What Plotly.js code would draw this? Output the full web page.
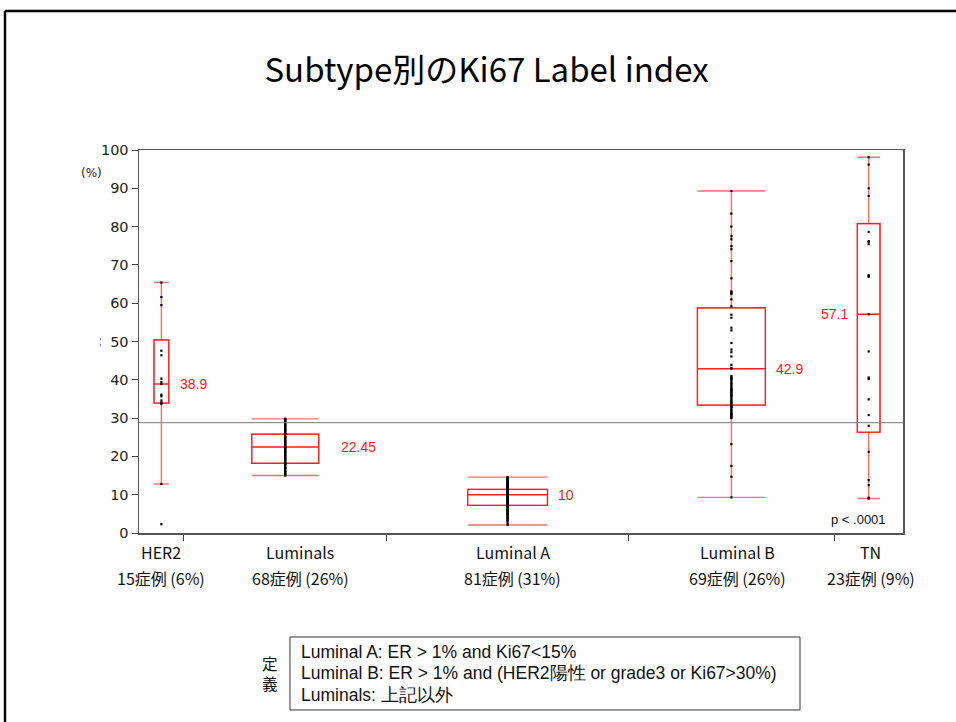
<!DOCTYPE html>
<html>
<head>
<meta charset="utf-8">
<script src="https://cdn.plot.ly/plotly-3.0.1.min.js"></script>
<style>
html,body{margin:0;padding:0;background:#fff;}
#chart{width:956px;height:722px;}
</style>
</head>
<body>
<div id="chart"></div>
<script>
// ---- data ----
var categories = ["HER2", "Luminals", "Luminal A", "Luminal B", "TN"];
var caseLabels = ["15症例 (6%)", "68症例 (26%)", "81症例 (31%)", "69症例 (26%)", "23症例 (9%)"];
var counts = [15, 68, 81, 69, 23];

var q1 = [33.9, 18.2, 7.2, 33.4, 26.3];
var medians = [38.9, 22.45, 10, 42.9, 57.1];
var q3 = [50.4, 25.8, 11.4, 58.8, 80.8];
var lowerFence = [12.8, 15.0, 2.1, 9.3, 9.0];
var upperFence = [65.4, 29.8, 14.6, 89.3, 98.1];
var medianText = ["38.9", "22.45", "10", "42.9", "57.1"];

var her2Pts = [65.4, 61.6, 59.5, 47.6, 46.4, 40.3, 39.4, 38.9, 36.1, 35.7, 34.6, 34.1, 33.7, 12.8, 2.3];
var luminalsPts = [15.0, 15.2, 15.5, 15.5, 16.0, 16.1, 16.3, 16.7, 17.0, 17.0, 17.4, 17.8, 18.0, 18.2, 18.2, 18.5, 18.9,
  19.0, 19.3, 19.5, 19.8, 20.0, 20.0, 20.4, 20.6, 20.9, 21.1, 21.3, 21.5, 21.8, 22.0, 22.1, 22.4, 22.45, 22.5,
  22.9, 23.0, 23.3, 23.5, 23.6, 24.0, 24.0, 24.2, 24.5, 24.8, 25.0, 25.1, 25.3, 25.9, 26.0, 26.2, 26.5, 26.7,
  27.0, 27.0, 27.3, 27.6, 27.9, 28.0, 28.3, 28.5, 28.6, 29.0, 29.1, 29.4, 29.5, 29.8, 29.8];
var luminalAPts = [2.1, 2.5, 3.0, 3.3, 3.5, 3.8, 4.0, 4.2, 4.5, 4.8, 5.0, 5.0, 5.3, 5.5, 5.8, 6.0, 6.0, 6.2, 6.5,
  6.7, 6.9, 7.0, 7.1, 7.2, 7.3, 7.5, 7.7, 7.9, 8.0, 8.0, 8.2, 8.4, 8.6, 8.8, 9.0, 9.0, 9.2, 9.4, 9.5, 9.7, 9.8,
  10.0, 10.0, 10.0, 10.0, 10.2, 10.3, 10.5, 10.5, 10.6, 10.8, 10.9, 11.0, 11.0, 11.1, 11.2, 11.3, 11.4, 11.5,
  11.6, 11.8, 12.0, 12.0, 12.1, 12.3, 12.5, 12.5, 12.7, 12.8, 13.0, 13.0, 13.2, 13.4, 13.5, 13.7, 13.9, 14.0,
  14.1, 14.3, 14.5, 14.6];
var luminalBPts = [89.3, 83.4, 80.0, 77.5, 76.7, 74.9, 74.1, 71.0, 66.5, 63.1, 62.9, 62.7, 62.4, 61.0, 59.2, 57.0,
  56.2, 53.6, 52.9, 49.6, 47.9, 47.2, 46.1, 43.9, 43.1, 42.9, 41.0, 40.6, 40.2, 39.9, 39.5, 39.1, 38.8, 38.4,
  38.0, 37.7, 37.3, 37.0, 36.6, 36.2, 35.9, 35.5, 35.1, 34.8, 34.4, 34.0, 33.7, 33.3, 33.0, 32.6, 32.2, 31.9,
  31.5, 31.2, 30.8, 30.5, 30.2, 30.0, 40.4, 37.5, 36.0, 34.2, 32.9, 31.0, 36.9, 23.2, 17.5, 14.7, 9.3];
var tnPts = [98.1, 96.2, 90.0, 88.0, 78.6, 76.2, 76.0, 75.4, 67.3, 67.1, 66.9, 57.1, 47.4, 40.6, 40.2, 34.9, 30.8,
  28.0, 21.2, 13.8, 12.5, 9.2, 9.0];
var points = [her2Pts, luminalsPts, luminalAPts, luminalBPts, tnPts];
var grandMean = 28.8;
var pText = "p < .0001";
var defLines = ["Luminal A: ER > 1% and Ki67<15%",
  "Luminal B: ER > 1% and (HER2陽性 or grade3 or Ki67>30%)",
  "Luminals: 上記以外"];

// ---- layout helpers ----
var total = counts.reduce(function (a, b) { return a + b; }, 0);
var bounds = [], centers = [], acc = 0;
counts.forEach(function (n) { centers.push(acc + n / 2); acc += n; bounds.push(acc); });
var boxW = counts.map(function (n) { return n * 0.33; });

var red = "rgb(255,30,30)";
var lightRed = "rgb(255,110,110)";
var traces = [];
// whiskers + caps (lighter red)
categories.forEach(function (c, i) {
  traces.push({
    type: "box", name: c, x: [centers[i]],
    q1: [q1[i]], median: [medians[i]], q3: [q3[i]],
    lowerfence: [lowerFence[i]], upperfence: [upperFence[i]],
    width: boxW[i], whiskerwidth: 1, boxpoints: false,
    fillcolor: "rgba(0,0,0,0)", line: {color: lightRed, width: 1.4},
    hoverinfo: "skip", showlegend: false
  });
});
// box outline + median (bright red), drawn over
categories.forEach(function (c, i) {
  traces.push({
    type: "box", name: c + " box", x: [centers[i]],
    q1: [q1[i]], median: [medians[i]], q3: [q3[i]],
    lowerfence: [q1[i]], upperfence: [q3[i]],
    width: boxW[i], whiskerwidth: 0, boxpoints: false,
    fillcolor: "rgba(0,0,0,0)", line: {color: red, width: 1.2},
    hoverinfo: "skip", showlegend: false
  });
});
categories.forEach(function (c, i) {
  traces.push({
    type: "scatter", mode: "markers", name: c + " pts",
    x: points[i].map(function () { return centers[i]; }), y: points[i],
    marker: {symbol: "square", size: 2.2, color: "#000", line: {width: 0}},
    showlegend: false, hoverinfo: "y"
  });
});

var annotations = [];
var labelShift = [0, 15, 5, 6, 2];
categories.forEach(function (c, i) {
  var right = i < 4;
  annotations.push({
    x: right ? centers[i] + boxW[i] / 2 : centers[i] - boxW[i] / 2, y: medians[i],
    xref: "x", yref: "y", text: medianText[i], showarrow: false,
    xanchor: right ? "left" : "right", yanchor: "middle",
    xshift: right ? (i === 1 ? 20 : 9) : -7,
    font: {family: "Liberation Sans, Arial, sans-serif", size: 14, color: "#ff1a1a"}
  });
  annotations.push({
    x: centers[i], y: -0.05, xref: "x", yref: "paper", text: c, showarrow: false,
    xshift: labelShift[i], yanchor: "middle",
    font: {family: "Noto Sans CJK JP, sans-serif", size: 16, color: "#111"}
  });
  annotations.push({
    x: centers[i], y: -0.118, xref: "x", yref: "paper", text: caseLabels[i], showarrow: false,
    xshift: labelShift[i], yanchor: "middle",
    font: {family: "Noto Sans CJK JP, sans-serif", size: 16, color: "#111"}
  });
});
annotations.push({x: 0.98, y: 0.034, xref: "paper", yref: "paper", text: pText, showarrow: false,
  xanchor: "right", yanchor: "middle", font: {family: "Liberation Sans, Arial, sans-serif", size: 13, color: "#111"}});
annotations.push({x: -0.0628, y: 0.9426, xref: "paper", yref: "paper", text: "(%)", showarrow: false,
  xanchor: "right", xshift: 13, yshift: 8,
  font: {family: "DejaVu Sans, sans-serif", size: 12, color: "#222"}});
annotations.push({x: -0.0537, y: 0.499, xref: "paper", yref: "paper", text: "- -", showarrow: false,
  textangle: -90, xshift: -5, font: {family: "DejaVu Sans, sans-serif", size: 9, color: "#444"}});
var defY = [-0.3107, -0.3655, -0.423];
defLines.forEach(function (t, k) {
  annotations.push({x: 0.2094, y: defY[k], xref: "paper", yref: "paper", text: t,
    showarrow: false, xanchor: "left", yanchor: "middle", align: "left",
    font: {family: "Liberation Sans, Arial, sans-serif", size: 17.5, color: "#111"}});
});
annotations.push({x: 0.172, y: -0.3655, xref: "paper", yref: "paper", text: "定<br>義",
  showarrow: false, xanchor: "center", yanchor: "middle",
  font: {family: "Noto Sans CJK JP, sans-serif", size: 15.5, color: "#111"}});

var layout = {
  width: 956, height: 722,
  margin: {l: 139, r: 53, t: 150, b: 189},
  paper_bgcolor: "#fff", plot_bgcolor: "#fff",
  boxmode: "overlay",
  title: {text: "Subtype別のKi67 Label index", x: 0.509, xref: "container", xanchor: "center",
    y: 0.903, yref: "container", yanchor: "middle",
    font: {family: "Noto Sans CJK JP, sans-serif", size: 33, color: "#000"}},
  xaxis: {range: [0, total], tickvals: bounds.slice(0, 4), ticktext: ["", "", "", ""],
    ticks: "outside", ticklen: 6, tickcolor: "#444", showgrid: false, zeroline: false,
    showline: true, linecolor: "#555", linewidth: 1.5, mirror: true, fixedrange: true},
  yaxis: {range: [0, 100], dtick: 10, ticks: "outside", ticklen: 6, tickcolor: "#444",
    showgrid: false, zeroline: false, showline: true, linecolor: "#555", linewidth: 1.5, mirror: true,
    tickfont: {family: "DejaVu Sans, sans-serif", size: 14.5, color: "#222"}, fixedrange: true},
  shapes: [
    {type: "line", xref: "paper", yref: "y", x0: 0, x1: 1, y0: grandMean, y1: grandMean,
      line: {color: "#777", width: 1}},
    {type: "rect", xref: "paper", yref: "paper", x0: 0.1976, x1: 0.8652, y0: -0.2715, y1: -0.4621,
      line: {color: "#333", width: 1}},
    {type: "line", xref: "paper", yref: "paper", x0: -0.1754, x1: 1.08, y0: 1.363, y1: 1.363,
      line: {color: "#000", width: 2.5}},
    {type: "line", xref: "paper", yref: "paper", x0: -0.1754, x1: -0.1754, y0: 1.363, y1: -0.52,
      line: {color: "#000", width: 2.5}}
  ],
  annotations: annotations,
  showlegend: false
};

Plotly.newPlot("chart", traces, layout, {displayModeBar: false, staticPlot: true});
</script>
</body>
</html>
